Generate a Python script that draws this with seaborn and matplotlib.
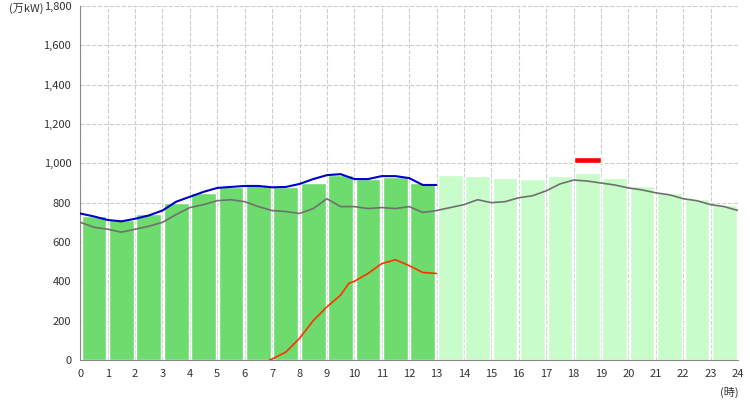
import matplotlib
matplotlib.use("Agg")
import matplotlib.pyplot as plt
import seaborn as sns
import numpy as np

sns.set_style("white")
plt.rcParams['font.family'] = ['Noto Sans CJK JP', 'DejaVu Sans']

hours = list(range(24))
bar_vals = [730, 710, 740, 800, 850, 880, 890, 880, 900, 940, 920, 930, 900,
            940, 935, 925, 920, 935, 950, 925, 885, 850, 820, 790]
n_actual = 13

blue_x = [0,0.5,1,1.5,2,2.5,3,3.5,4,4.5,5,5.5,6,6.5,7,7.5,8,8.5,9,9.5,10,10.5,11,11.5,12,12.5,13]
blue_y = [745,730,712,705,718,735,760,805,830,855,875,880,885,885,878,880,895,920,940,945,920,920,935,935,925,890,890]

gray_x = [0,0.5,1,1.5,2,2.5,3,3.5,4,4.5,5,5.5,6,6.5,7,7.5,8,8.5,9,9.5,10,10.5,11,11.5,12,12.5,13,13.5,14,14.5,15,15.5,16,16.5,17,17.5,18,18.5,19,19.5,20,20.5,21,21.5,22,22.5,23,23.5,24]
gray_y = [700,675,665,650,665,680,700,740,775,790,810,815,805,780,760,755,745,770,820,780,780,770,775,770,780,750,760,775,790,815,800,805,825,835,860,895,915,910,900,890,875,865,850,840,820,810,790,780,760]

red_x = [6.9,7,7.5,8,8.5,9,9.5,9.8,10,10.5,11,11.5,12,12.5,13]
red_y = [0,5,40,110,200,270,330,390,400,440,490,510,480,445,440]

peak_hour = 18
peak_low, peak_high = 1000, 1030

fig, ax = plt.subplots(figsize=(7.5, 4), dpi=100)
fig.subplots_adjust(left=0.107, right=0.984, top=0.985, bottom=0.1)

colors = ['#6ddb6d' if i < n_actual else '#c8fcc8' for i in hours]
ax.bar([h + 0.5 for h in hours], bar_vals, width=0.9, color=colors, zorder=2)
ax.bar([peak_hour + 0.5], [peak_high - peak_low], bottom=[peak_low], width=1.0, color='#ff0000', zorder=4)

sns.lineplot(x=gray_x, y=gray_y, ax=ax, color='#707070', lw=1.2, zorder=3)
sns.lineplot(x=blue_x, y=blue_y, ax=ax, color='#0000cc', lw=1.5, zorder=3)
sns.lineplot(x=red_x, y=red_y, ax=ax, color='#ff3300', lw=1.2, zorder=3)

ax.set_xlim(0, 24)
ax.set_ylim(0, 1800)
ax.set_xticks(range(25))
ax.set_yticks(range(0, 1801, 200))
ax.set_yticklabels([f"{v:,}" for v in range(0, 1801, 200)])
ax.tick_params(labelsize=8, colors='#333333', length=3)
ax.grid(True, ls='--', color='#cccccc', lw=0.8, zorder=0)
ax.set_axisbelow(True)
for s in ['top', 'right']:
    ax.spines[s].set_visible(False)
ax.spines['left'].set_color('#888888')
ax.spines['bottom'].set_color('#888888')
fig.text(0.012, 0.97, "(万kW)", fontsize=8, color='#333333')
fig.text(0.96, 0.01, "(時)", fontsize=8, color='#333333')
fig.savefig("out.png")
